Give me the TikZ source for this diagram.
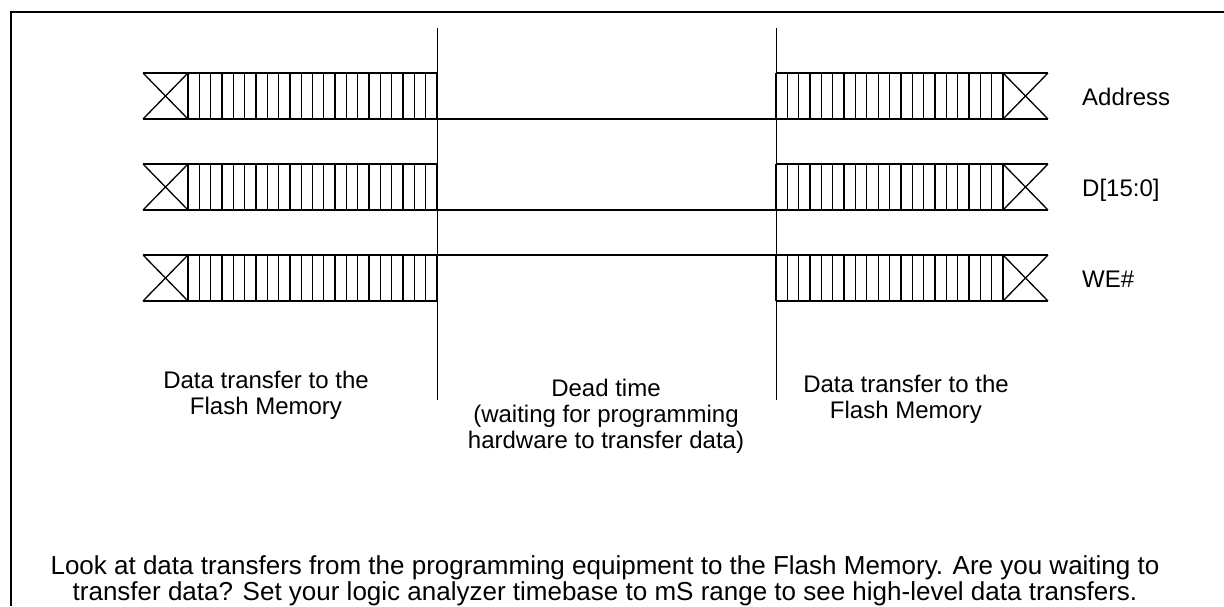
\documentclass[tikz,border=0pt]{standalone}
\usepackage{fontspec}
\setmainfont{Liberation Sans}
\begin{document}
\begin{tikzpicture}[x=1pt,y=-1pt,
  bus/.style={line width=1.3pt},
  sepline/.style={line width=1pt},
  frameline/.style={line width=2pt},
  lbl/.style={font=\fontsize{24}{26}\selectfont, align=center, inner sep=0pt},
  note/.style={font=\fontsize{26}{26}\selectfont, align=center, inner sep=0pt}]
\useasboundingbox (0,0) rectangle (1224,606);
\draw[frameline] (11,606) -- (11,12) -- (1224,12);
% separators
\coordinate (s1t) at (437,28);
\coordinate (s1b) at (437,400);
\coordinate (s2t) at (776,28);
\coordinate (s2b) at (776,400);
\draw[sepline] (s1t) -- (s1b);
\draw[sepline] (s2t) -- (s2b);
% buses
\foreach \y in {73,164,255}{
  % left block
  \draw[bus] (143,\y) -- (437,\y) (143,\y+46) -- (437,\y+46);
  \draw[bus] (143,\y) -- (188,\y+46) (143,\y+46) -- (188,\y);
  \foreach \i in {0,...,22} \draw[bus] ({188+\i*249/22},\y) -- ++(0,46);
  % right block
  \draw[bus] (776,\y) -- (1048,\y) (776,\y+46) -- (1048,\y+46);
  \draw[bus] (1003,\y) -- (1048,\y+46) (1003,\y+46) -- (1048,\y);
  \foreach \i in {0,...,20} \draw[bus] ({776+\i*227/20},\y) -- ++(0,46);
}
% dead time levels
\draw[bus] (437,119) -- (776,119);
\draw[bus] (437,210) -- (776,210);
\draw[bus] (437,255) -- (776,255);
% labels
\node[lbl, anchor=base west] (addr) at (1082,105) {Address};
\node[lbl, anchor=base west] (data) at (1082,196) {D[15:0]};
\node[lbl, anchor=base west] (we) at (1082,287) {WE\#};
\node[lbl, anchor=north] (t1) at (266,371) {Data transfer to the\\Flash Memory};
\node[lbl, anchor=north] (t2) at (606,379) {Dead time\\(waiting for programming\\hardware to transfer data)};
\node[lbl, anchor=north] (t3) at (906,375) {Data transfer to the\\Flash Memory};
\node[note, anchor=north] (t4) at (605,555) {Look at data transfers from the programming equipment to the Flash Memory. Are you waiting to\\transfer data? Set your logic analyzer timebase to mS range to see high-level data transfers.};
\end{tikzpicture}
\end{document}
